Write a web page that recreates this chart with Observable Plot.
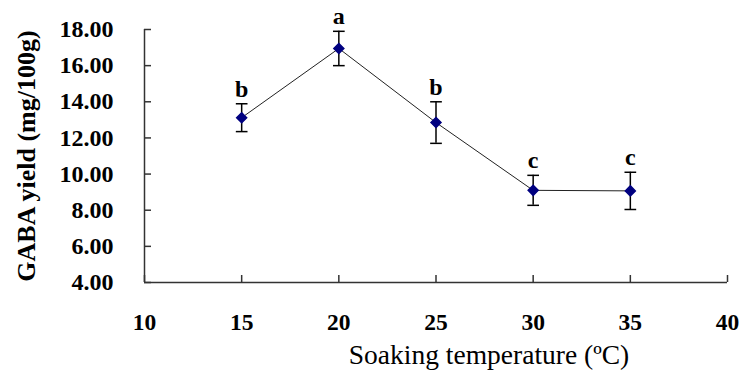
<!DOCTYPE html>
<html><head><meta charset="utf-8">
<script src="https://cdn.jsdelivr.net/npm/d3@7"></script>
<script src="https://cdn.jsdelivr.net/npm/@observablehq/plot@0.6"></script>
<style>
body{margin:0;background:#fff}
#chart svg, #chart svg text { font-family: "Liberation Serif", "Times New Roman", serif !important; }
</style>
</head><body><div id="chart"></div>
<script>
const temperatures = [15, 20, 25, 30, 35];
const yields = [13.12, 16.95, 12.85, 9.10, 9.07];
const errors = [0.77, 0.95, 1.15, 0.83, 1.03];
const letters = ["b", "a", "b", "c", "c"];
const xTicks = [10, 15, 20, 25, 30, 35, 40];
const yTicks = [4, 6, 8, 10, 12, 14, 16, 18];
const xTitle = "Soaking temperature (ºC)";
const yTitle = "GABA yield (mg/100g)";

const data = temperatures.map((t, i) => ({
  t, y: yields[i], lo: yields[i] - errors[i], hi: yields[i] + errors[i], letter: letters[i]
}));
const cap = {draw(ctx, size) { const w = Math.sqrt(size) * 0.55; ctx.moveTo(-w, 0); ctx.lineTo(w, 0); }};
const font = "Liberation Serif";

const chart = Plot.plot({
  width: 742, height: 370,
  marginLeft: 144, marginRight: 15, marginTop: 29, marginBottom: 88,
  style: {fontFamily: font, color: "#000", background: "#fff"},
  x: {domain: [10, 40]},
  y: {domain: [4, 18]},
  marks: [
    Plot.axisX({ticks: xTicks, tickSize: -7, fill: "none", stroke: "#333", strokeWidth: 1.5, label: null}),
    Plot.axisX({ticks: xTicks, tickSize: 0, tickPadding: 31, fontFamily: font, fontSize: 23.5, fontWeight: "bold", fill: "#000", label: null}),
    Plot.axisY({ticks: yTicks, tickSize: -7, fill: "none", stroke: "#333", strokeWidth: 1.5, label: null}),
    Plot.axisY({ticks: yTicks, tickSize: 0, tickPadding: 31, tickFormat: ".2f", fontFamily: font, fontSize: 24, fontWeight: "bold", fill: "#000", label: null}),
    Plot.ruleY([4], {stroke: "#333", strokeWidth: 1.5}),
    Plot.ruleX([10], {stroke: "#333", strokeWidth: 1.5}),
    Plot.line(data, {x: "t", y: "y", stroke: "#222", strokeWidth: 1}),
    Plot.ruleX(data, {x: "t", y1: "lo", y2: "hi", stroke: "#000", strokeWidth: 1.5}),
    Plot.dot(data, {x: "t", y: "lo", symbol: cap, r: 6, stroke: "#000", strokeWidth: 1.5}),
    Plot.dot(data, {x: "t", y: "hi", symbol: cap, r: 6, stroke: "#000", strokeWidth: 1.5}),
    Plot.dot(data, {x: "t", y: "y", symbol: "diamond2", r: 4.5, fill: "#000080", stroke: "#000080"}),
    Plot.text(data, {x: "t", y: "hi", text: "letter", dy: -7, lineAnchor: "bottom", fontFamily: font, fontSize: 24, fontWeight: "bold", fill: "#000"}),
    Plot.text([xTitle], {frameAnchor: "bottom", dx: 53, dy: 81, lineAnchor: "bottom", fontFamily: font, fontSize: 27.5, fill: "#000"}),
    Plot.text([yTitle], {frameAnchor: "left", textAnchor: "middle", dx: -118, rotate: -90, fontFamily: font, fontSize: 26, fontWeight: "bold", fill: "#000"})
  ]
});
document.getElementById("chart").appendChild(chart);
</script>
</body></html>
